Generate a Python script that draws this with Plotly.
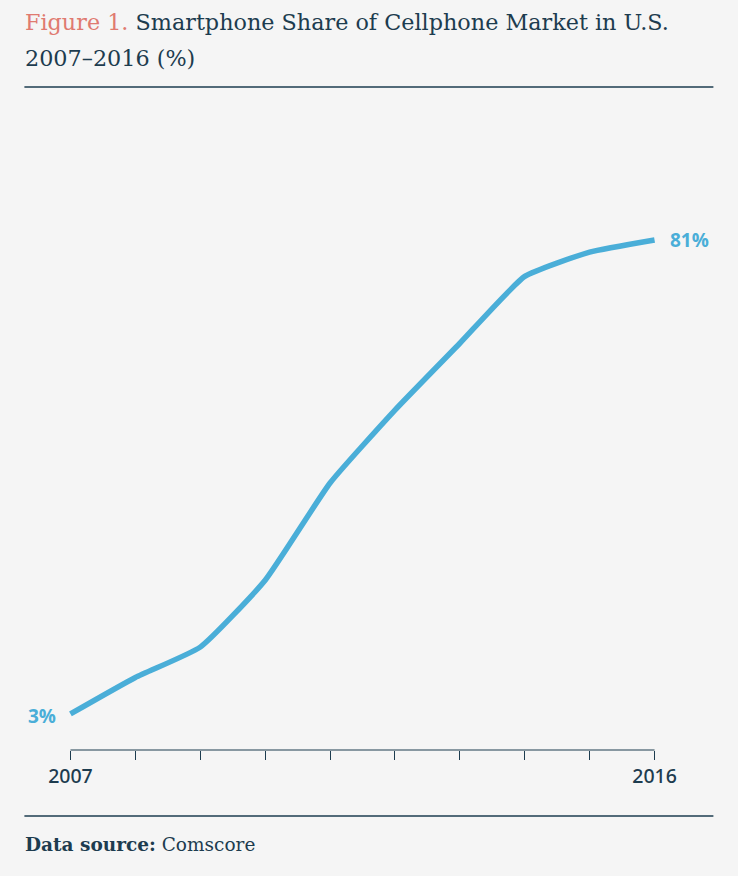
import plotly.graph_objects as go

years = [2007, 2008, 2009, 2010, 2011, 2012, 2013, 2014, 2015, 2016]
share = [3, 9, 14, 25, 41, 53, 64, 75, 79, 81]
tick_labels = ["2007", "", "", "", "", "", "", "", "", "2016"]

W, H = 738, 876
BG = "#f5f5f5"
DARK = "#1d3c4f"
BLUE = "#4aaed8"
SALMON = "#e07a70"

# plot area geometry (pixels)
L, R, T, B = 37.6, 51.4, 120, 126
pw = W - L - R
ph = H - T - B

def px(x):
    return (x - L) / pw

def py(y):
    return 1 - (y - T) / ph

fig = go.Figure()
fig.add_trace(go.Scatter(
    x=years, y=share, mode="lines",
    line=dict(color=BLUE, width=5.5, shape="spline", smoothing=0.45),
    hoverinfo="skip", showlegend=False,
))

fig.add_annotation(x=years[0], y=share[0], xref="x", yref="y",
                   text=f"<b>{share[0]}%</b>", showarrow=False,
                   xanchor="right", yanchor="middle", xshift=-12, yshift=-2,
                   font=dict(family="Open Sans", size=19, color=BLUE))
fig.add_annotation(x=years[-1], y=share[-1], xref="x", yref="y",
                   text=f"<b>{share[-1]}%</b>", showarrow=False,
                   xanchor="left", yanchor="middle", xshift=13, yshift=0,
                   font=dict(family="Open Sans", size=19, color=BLUE))

# title
fig.add_annotation(x=px(23), y=py(22), xref="paper", yref="paper",
                   text=f"<span style='color:{SALMON}'>Figure 1.</span> Smartphone Share of Cellphone Market in U.S.",
                   showarrow=False, xanchor="left", yanchor="middle",
                   font=dict(family="DejaVu Serif", size=22.3, color=DARK))
fig.add_annotation(x=px(23), y=py(58), xref="paper", yref="paper",
                   text="2007–2016 (%)",
                   showarrow=False, xanchor="left", yanchor="middle",
                   font=dict(family="DejaVu Serif", size=22.3, color=DARK))
# footer
fig.add_annotation(x=px(23), y=py(845), xref="paper", yref="paper",
                   text="<b>Data source:</b> Comscore",
                   showarrow=False, xanchor="left", yanchor="middle",
                   font=dict(family="DejaVu Serif", size=18.5, color=DARK))

# rules
fig.add_shape(type="line", xref="paper", yref="paper",
              x0=px(24), x1=px(713), y0=py(87), y1=py(87),
              line=dict(color=DARK, width=1.5))
fig.add_shape(type="line", xref="paper", yref="paper",
              x0=px(24), x1=px(713), y0=py(816), y1=py(816),
              line=dict(color=DARK, width=1.5))
# axis baseline between first and last year
fig.add_shape(type="line", xref="x", yref="paper",
              x0=years[0], x1=years[-1], y0=0, y1=0,
              line=dict(color=DARK, width=1.2))

fig.update_layout(
    width=W, height=H,
    margin=dict(l=L, r=R, t=T, b=B),
    paper_bgcolor=BG, plot_bgcolor=BG,
    xaxis=dict(range=[2006.5, 2016.5], showgrid=False, zeroline=False,
               showline=False, tickmode="array", tickvals=years,
               ticktext=tick_labels, ticks="outside", ticklen=9,
               tickwidth=1.2, tickcolor=DARK,
               tickfont=dict(family="Noto Sans", size=19.5, color=DARK, weight=500),
               fixedrange=True),
    yaxis=dict(range=[-2.93, 100.74], visible=False, fixedrange=True),
)

fig.write_html("out.html", config={"displayModeBar": False},
               post_script="document.body.style.margin='0';document.body.style.background='%s';" % BG)
